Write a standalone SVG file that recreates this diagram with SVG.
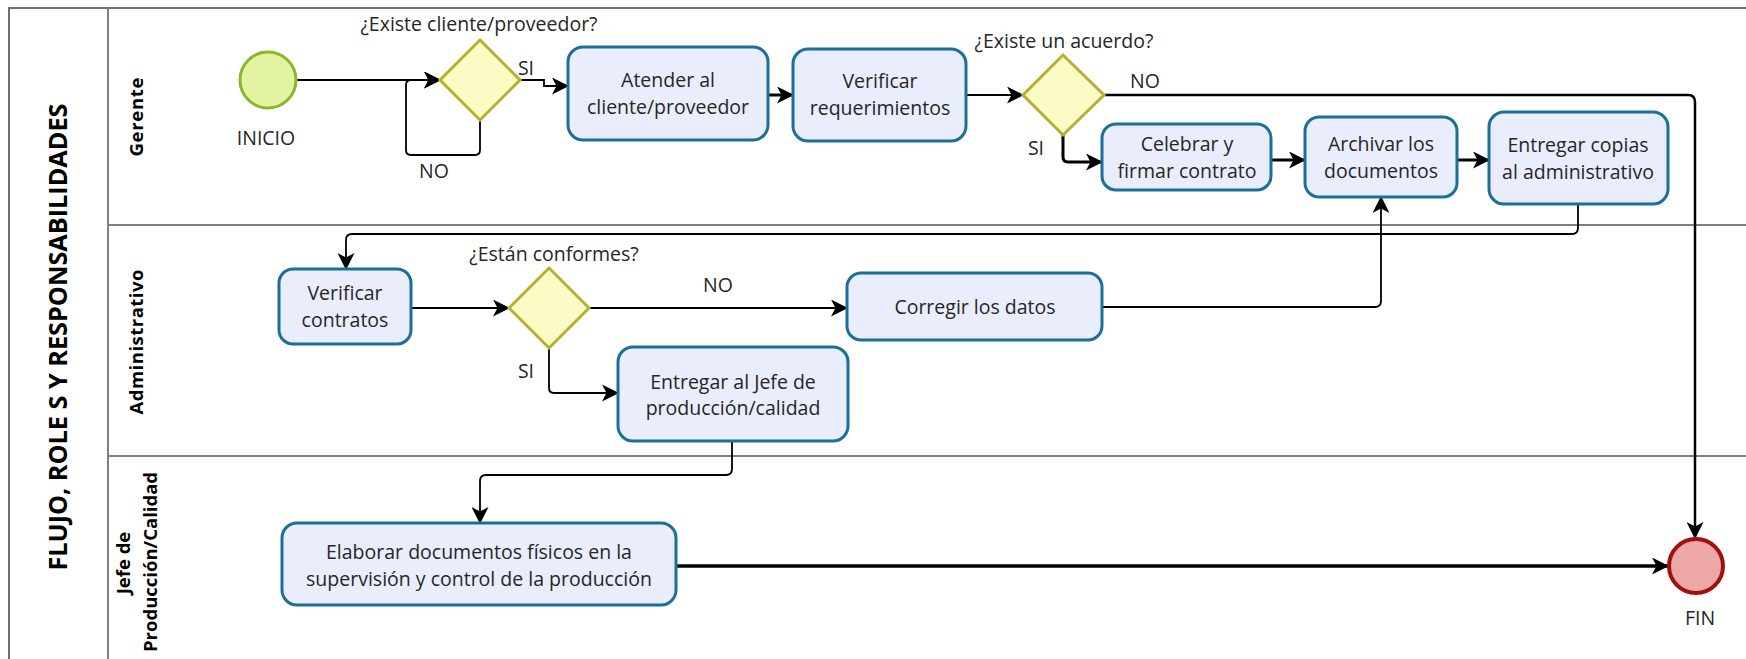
<svg xmlns="http://www.w3.org/2000/svg" width="1746" height="659" viewBox="0 0 1746 659">
<style>
.pool{fill:#ffffff;stroke:#6e6e6e;stroke-width:2}
.lane{stroke:#7f7f7f;stroke-width:2;fill:none}
.task{fill:#e9edfc;stroke:#1b6f98;stroke-width:3}
.gw{fill:#fbfbc6;stroke:#b2b132;stroke-width:3}
.start{fill:#e2f4a0;stroke:#86b82a;stroke-width:3}
.end{fill:#eda7a7;stroke:#a10f0f;stroke-width:4}
.t{font-family:"Open Sans","Noto Sans",sans-serif;font-size:19.5px;fill:#262626;text-anchor:middle}
.lbl{font-family:"Open Sans","Noto Sans",sans-serif;font-size:19.5px;fill:#262626;text-anchor:middle}
.lanet{font-family:"Open Sans","Noto Sans",sans-serif;font-size:18.5px;font-weight:bold;fill:#000;text-anchor:middle}
.title{font-family:"Open Sans","Noto Sans",sans-serif;font-size:25px;font-weight:bold;fill:#000;text-anchor:middle}
.c{fill:none;stroke:#000;stroke-width:1.8;marker-end:url(#arr)}
.ck{fill:none;stroke:#000;stroke-width:3;marker-end:url(#arr)}
</style>
<defs>
<marker id="arr" markerUnits="userSpaceOnUse" markerWidth="17" markerHeight="17" refX="16" refY="8.5" orient="auto">
<path d="M0,0 L17,8.5 L0,17 L4.5,8.5 z" fill="#000"/>
</marker>
</defs>
<g id="pool">
<rect class="pool" x="9" y="8" width="1800" height="720"/>
<line class="lane" x1="108" y1="8" x2="108" y2="700"/>
<line class="lane" x1="108" y1="225" x2="1746" y2="225"/>
<line class="lane" x1="108" y1="456" x2="1746" y2="456"/>
<text class="title" transform="translate(67,337) rotate(-90)" textLength="467" lengthAdjust="spacingAndGlyphs">FLUJO, ROLE S Y RESPONSABILIDADES</text>
<text class="lanet" transform="translate(143,117) rotate(-90)" textLength="79">Gerente</text>
<text class="lanet" transform="translate(143,342) rotate(-90)" textLength="145">Administrativo</text>
<text class="lanet" transform="translate(130,563) rotate(-90)">Jefe de</text>
<text class="lanet" transform="translate(157,562) rotate(-90)">Producción/Calidad</text>
</g>
<g id="connectors">
<path class="c" d="M296,80 H440"/>
<path class="c" d="M480,120 V150 Q480,155 475,155 H411 Q406,155 406,150 V85 Q406,80 411,80 H440"/>
<path class="c" d="M520,80 H544 V86 H568"/>
<path class="ck" d="M768,95 H793"/>
<path class="c" d="M966,95 H1023"/>
<path fill="none" stroke="#000" stroke-width="2.5" marker-end="url(#arr)" d="M1104,95 H1688 Q1695,95 1695,102 V538"/>
<path class="ck" d="M1063,135 V157 Q1063,162 1068,162 H1102"/>
<path class="ck" d="M1271,160 H1305"/>
<path class="ck" d="M1457,160 H1489"/>
<path class="c" d="M1578,204 V228 Q1578,234 1572,234 H352 Q346,234 346,240 V269"/>
<path class="c" d="M411,308 H509"/>
<path class="c" d="M589,308 H847"/>
<path class="c" d="M1102,307 H1375 Q1381,307 1381,301 V197"/>
<path class="c" d="M549,348 V388 Q549,393 554,393 H618"/>
<path class="c" d="M732,441 V469 Q732,475 726,475 H486 Q480,475 480,481 V523"/>
<path fill="none" stroke="#000" stroke-width="3.5" marker-end="url(#arr)" d="M676,566 H1668"/>
<text class="lbl" x="526" y="75">SI</text>
<text class="lbl" x="434" y="178">NO</text>
<text class="lbl" x="1145" y="88">NO</text>
<text class="lbl" x="1036" y="155">SI</text>
<text class="lbl" x="718" y="292">NO</text>
<text class="lbl" x="526" y="378">SI</text>
</g>
<g id="inicio">
<circle class="start" cx="268" cy="80" r="28"/>
<text class="lbl" x="266" y="145">INICIO</text>
</g>
<g id="gw1">
<polygon class="gw" points="480,40 520,80 480,120 440,80"/>
<text class="lbl" x="479" y="31">¿Existe cliente/proveedor?</text>
</g>
<g id="atender">
<rect class="task" x="568" y="47" width="200" height="93" rx="15"/>
<text class="t" x="668" y="87">Atender al</text>
<text class="t" x="668" y="114">cliente/proveedor</text>
</g>
<g id="verificar-req">
<rect class="task" x="793" y="49" width="173" height="92" rx="15"/>
<text class="t" x="880" y="88">Verificar</text>
<text class="t" x="880" y="115">requerimientos</text>
</g>
<g id="gw2">
<polygon class="gw" points="1063,55 1104,95 1063,135 1023,95"/>
<text class="lbl" x="1064" y="48">¿Existe un acuerdo?</text>
</g>
<g id="celebrar">
<rect class="task" x="1102" y="124" width="169" height="66" rx="14"/>
<text class="t" x="1187" y="151">Celebrar y</text>
<text class="t" x="1187" y="178">firmar contrato</text>
</g>
<g id="archivar">
<rect class="task" x="1305" y="117" width="152" height="80" rx="14"/>
<text class="t" x="1381" y="151">Archivar los</text>
<text class="t" x="1381" y="178">documentos</text>
</g>
<g id="entregar-copias">
<rect class="task" x="1489" y="112" width="179" height="92" rx="15"/>
<text class="t" x="1578" y="152">Entregar copias</text>
<text class="t" x="1578" y="179">al administrativo</text>
</g>
<g id="verificar-contratos">
<rect class="task" x="279" y="269" width="132" height="75" rx="14"/>
<text class="t" x="345" y="300">Verificar</text>
<text class="t" x="345" y="327">contratos</text>
</g>
<g id="gw3">
<polygon class="gw" points="549,268 589,308 549,348 509,308"/>
<text class="lbl" x="554" y="261">¿Están conformes?</text>
</g>
<g id="corregir">
<rect class="task" x="847" y="273" width="255" height="67" rx="14"/>
<text class="t" x="975" y="314">Corregir los datos</text>
</g>
<g id="entregar-jefe">
<rect class="task" x="618" y="347" width="230" height="94" rx="15"/>
<text class="t" x="733" y="389">Entregar al Jefe de</text>
<text class="t" x="733" y="415">producción/calidad</text>
</g>
<g id="elaborar">
<rect class="task" x="282" y="523" width="394" height="82" rx="15"/>
<text class="t" x="479" y="559">Elaborar documentos físicos en la</text>
<text class="t" x="479" y="586">supervisión y control de la producción</text>
</g>
<g id="fin">
<circle class="end" cx="1696" cy="566" r="27"/>
<text class="lbl" x="1700" y="625">FIN</text>
</g>
</svg>
